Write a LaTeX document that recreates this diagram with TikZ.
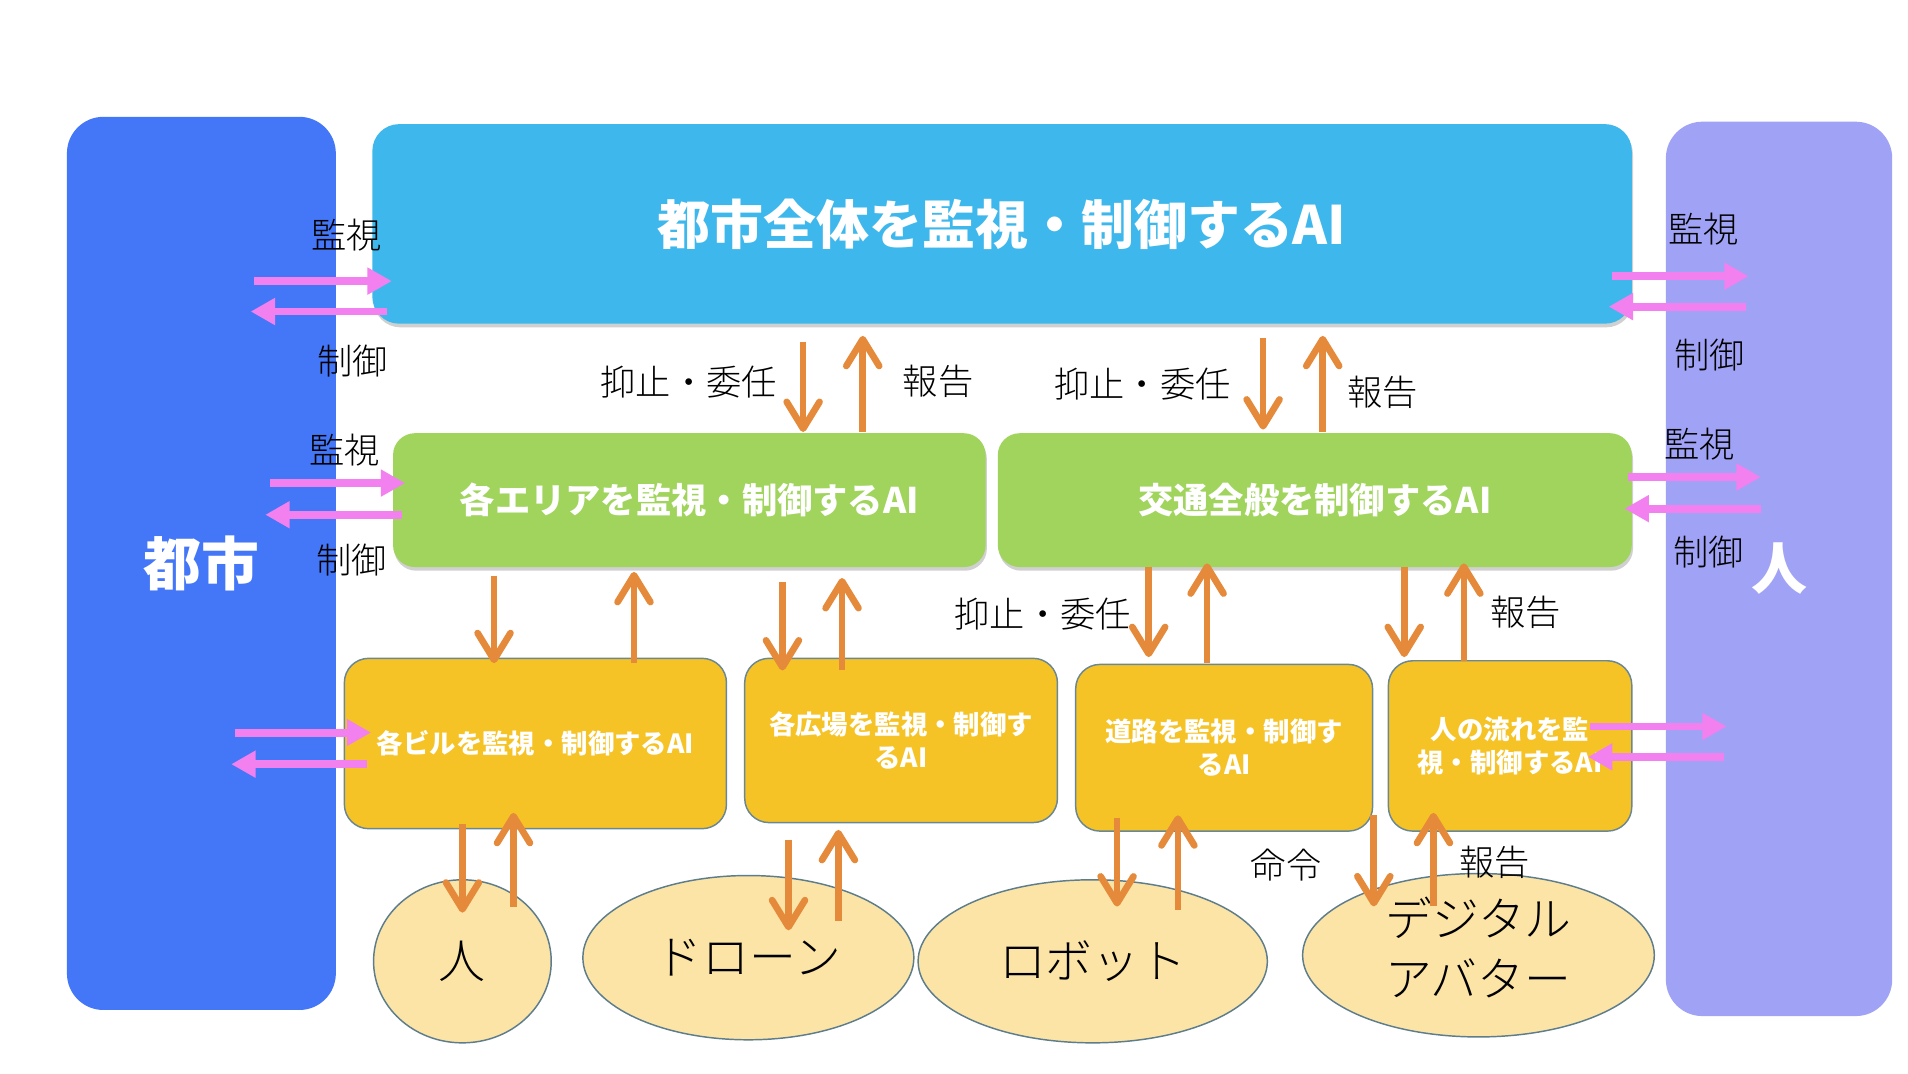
\documentclass[tikz,border=0pt]{standalone}
\usepackage{fontspec}
\newfontfamily\jp{Noto Sans CJK JP}
\newfontfamily\jpl{Noto Sans CJK JP Light}
\usetikzlibrary{arrows.meta,shapes.geometric,shadows,calc}
\definecolor{cityblue}{HTML}{4477F7}
\definecolor{personlav}{HTML}{A0A3F5}
\definecolor{topcyan}{HTML}{3EB8EC}
\definecolor{areagreen}{HTML}{A0D45C}
\definecolor{unityellow}{HTML}{F6C327}
\definecolor{unitborder}{HTML}{6A8794}
\definecolor{agentfill}{HTML}{FBE4A6}
\definecolor{agentborder}{HTML}{5E7D8C}
\definecolor{arrorange}{HTML}{E58A3A}
\definecolor{arrpink}{HTML}{F280EE}
\tikzset{
  sidebox/.style={rounded corners=30pt, inner sep=0pt, outer sep=0pt, text=white},
  topbox/.style={fill=topcyan, rounded corners=22pt, inner sep=0pt, outer sep=0pt, text=white,
    drop shadow={shadow xshift=1pt, shadow yshift=-3pt, opacity=.3, fill=black!60}},
  areabox/.style={fill=areagreen, rounded corners=18pt, inner sep=0pt, outer sep=0pt, text=white,
    minimum height=110pt, drop shadow={shadow xshift=1pt, shadow yshift=-3pt, opacity=.3, fill=black!60}},
  unitbox/.style={fill=unityellow, draw=unitborder, line width=1.2pt, rounded corners=20pt, inner sep=0pt, outer sep=0pt,
    text=white, align=center, font=\jp\bfseries\fontsize{21.7}{27}\selectfont},
  agent/.style={ellipse, fill=agentfill, draw=agentborder, line width=1.2pt, inner sep=0pt, outer sep=0pt,
    align=center, font=\jpl\fontsize{38.5}{45}\selectfont},
  lbl/.style={inner sep=0pt, font=\jpl\fontsize{29}{33}\selectfont},
  oarr/.style={draw=arrorange, line width=5.5pt, -{Straight Barb[length=22pt,width=27pt,line cap=round,line join=round]}},
  parr/.style={draw=arrpink, line width=6.5pt, -{Triangle[length=20pt,width=21pt]}},
}
\begin{document}
\begin{tikzpicture}[x=1pt,y=-1pt]
\useasboundingbox[fill=white] (0,0) rectangle (1568,881.8);
% side boxes
\node[sidebox, fill=cityblue, minimum width=221pt, minimum height=734pt] (city) at (165.5,463) {\jp\bfseries\fontsize{47.5}{52}\selectfont 都市};
\node[sidebox, fill=personlav, minimum width=186pt, minimum height=735pt] (person) at (1462,467.5) {\jp\bfseries\fontsize{46}{50}\selectfont 人};
% top
\node[topbox, minimum width=1035pt, minimum height=164pt] (top) at (823.5,184) {\jp\bfseries\fontsize{43.5}{50}\selectfont 都市全体を監視・制御するAI};
% areas
\node[areabox, minimum width=487pt] (gl) at (566.5,411) {\jp\bfseries\fontsize{29}{33}\selectfont 各エリアを監視・制御するAI};
\node[areabox, minimum width=521pt] (gr) at (1080.5,411) {\jp\bfseries\fontsize{29}{33}\selectfont 交通全般を制御するAI};
% units
\node[unitbox, minimum width=314pt, minimum height=140pt] (ya) at (440,611) {各ビルを監視・制御するAI};
\node[unitbox, minimum width=257pt, minimum height=135pt] (yb) at (740.5,608.5) {各広場を監視・制御す\\るAI};
\node[unitbox, minimum width=244pt, minimum height=137pt] (yc) at (1006,614.5) {道路を監視・制御す\\るAI};
\node[unitbox, minimum width=200pt, minimum height=140pt] (yd) at (1241,613) {人の流れを監\\視・制御するAI};
% agents
\node[agent, minimum width=146pt, minimum height=134pt] (e1) at (380,790) {人};
\node[agent, minimum width=272pt, minimum height=135pt] (e2) at (615,787) {ドローン};
\node[agent, minimum width=287pt, minimum height=134pt] (e3) at (898,790) {ロボット};
\node[agent, minimum width=289pt, minimum height=134pt] (e4) at (1215,785) {\raisebox{8pt}{\begin{tabular}{@{}c@{}}デジタル\\[4pt]アバター\end{tabular}}};
% orange arrows: top <-> areas
\draw[oarr] ($(top.south -| 660,0)+(0,15)$) -- ($(gl.north -| 660,0)+(0,-1)$);
\draw[oarr] ($(gl.north -| 709,0)+(0,-1)$) -- ($(top.south -| 709,0)+(0,10)$);
\draw[oarr] ($(top.south -| 1038,0)+(0,12)$) -- ($(gr.north -| 1038,0)+(0,-3)$);
\draw[oarr] ($(gr.north -| 1087,0)+(0,-1)$) -- ($(top.south -| 1087,0)+(0,10)$);
% areas <-> units
\draw[oarr] ($(gl.south -| 406,0)+(0,7)$) -- ($(ya.north -| 406,0)+(0,4)$);
\draw[oarr] ($(ya.north -| 521,0)+(0,4)$) -- ($(gl.south -| 521,0)+(0,4)$);
\draw[oarr] ($(gl.south -| 643,0)+(0,12)$) -- ($(yb.north -| 643,0)+(0,10)$);
\draw[oarr] ($(yb.north -| 692,0)+(0,10)$) -- ($(gl.south -| 692,0)+(0,9)$);
\draw[oarr] ($(gr.south -| 944,0)+(0,0)$) -- ($(yc.north -| 944,0)+(0,-6)$);
\draw[oarr] ($(yc.north -| 992,0)+(0,-1)$) -- ($(gr.south -| 992,0)+(0,-3)$);
\draw[oarr] ($(gr.south -| 1154,0)+(0,0)$) -- ($(yd.north -| 1154,0)+(0,-3)$);
\draw[oarr] ($(yd.north -| 1203,0)+(0,0)$) -- ($(gr.south -| 1203,0)+(0,-3)$);
% units <-> agents
\draw[oarr] ($(ya.south -| 380,0)+(0,-4)$) -- ($(e1.north -| 380,0)+(0,27)$);
\draw[oarr] ($(e1.north -| 422,0)+(0,22)$) -- ($(ya.south -| 422,0)+(0,-13)$);
\draw[oarr] ($(yb.south -| 648,0)+(0,14)$) -- ($(e2.north -| 648,0)+(0,45)$);
\draw[oarr] ($(e2.north -| 689,0)+(0,37)$) -- ($(yb.south -| 689,0)+(0,6)$);
\draw[oarr] ($(yc.south -| 918,0)+(0,-11)$) -- ($(e3.north -| 918,0)+(0,22)$);
\draw[oarr] ($(e3.north -| 968,0)+(0,25)$) -- ($(yc.south -| 968,0)+(0,-13)$);
\draw[oarr] ($(yc.south -| 1129,0)+(0,-13)$) -- ($(e4.north -| 1129,0)+(0,27)$);
\draw[oarr] ($(e4.north -| 1178,0)+(0,27)$) -- ($(yd.south -| 1178,0)+(0,-15)$);
% pink arrows left
\draw[parr] ($(city.east |- 0,231)+(-67,0)$) -- ($(top.west |- 0,231)+(16,0)$);
\draw[parr] ($(top.west |- 0,256)+(12,0)$) -- ($(city.east |- 0,256)+(-70,0)$);
\draw[parr] ($(city.east |- 0,397)+(-54,0)$) -- ($(gl.west |- 0,397)+(10,0)$);
\draw[parr] ($(gl.west |- 0,423)+(7,0)$) -- ($(city.east |- 0,423)+(-58,0)$);
\draw[parr] ($(city.east |- 0,602)+(-83,0)$) -- ($(ya.west |- 0,602)+(22,0)$);
\draw[parr] ($(ya.west |- 0,628)+(19,0)$) -- ($(city.east |- 0,628)+(-86,0)$);
% pink arrows right
\draw[parr] ($(top.east |- 0,227)+(-16,0)$) -- ($(person.west |- 0,227)+(68,0)$);
\draw[parr] ($(person.west |- 0,252)+(66,0)$) -- ($(top.east |- 0,252)+(-19,0)$);
\draw[parr] ($(gr.east |- 0,392)+(-3,0)$) -- ($(person.west |- 0,392)+(78,0)$);
\draw[parr] ($(person.west |- 0,418)+(78,0)$) -- ($(gr.east |- 0,418)+(-6,0)$);
\draw[parr] ($(yd.east |- 0,597)+(-34,0)$) -- ($(person.west |- 0,597)+(50,0)$);
\draw[parr] ($(person.west |- 0,622)+(48,0)$) -- ($(yd.east |- 0,622)+(-36,0)$);
% labels
\node[lbl] (l1) at (285,193) {監視};
\node[lbl] (l2) at (290,297) {制御};
\node[lbl] (l3) at (283,370) {監視};
\node[lbl] (l4) at (289,460) {制御};
\node[lbl] (l5) at (1400,188) {監視};
\node[lbl] (l6) at (1405,292) {制御};
\node[lbl] (l7) at (1397,365) {監視};
\node[lbl] (l8) at (1404,454) {制御};
\node[lbl] (l9) at (566,314) {抑止・委任};
\node[lbl] (l10) at (771,313) {報告};
\node[lbl] (l11) at (939,316) {抑止・委任};
\node[lbl] (l12) at (1136,322) {報告};
\node[lbl] (l13) at (857,505) {抑止・委任};
\node[lbl] (l14) at (1254,503) {報告};
\node[lbl] (l15) at (1057,711) {命令};
\node[lbl] (l16) at (1228,709) {報告};
\end{tikzpicture}
\end{document}
